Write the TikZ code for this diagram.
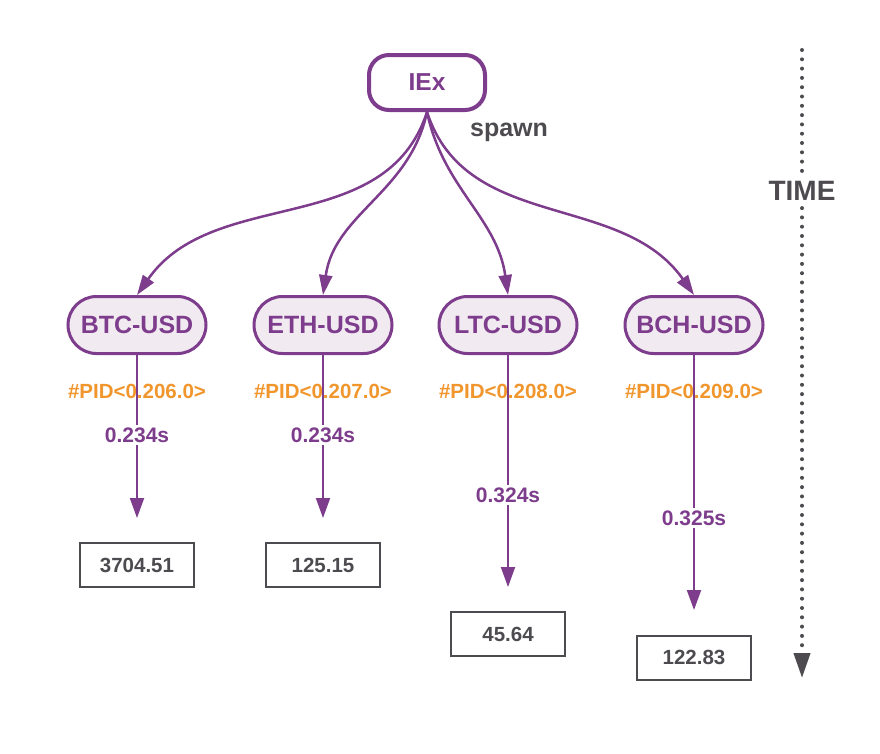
\documentclass[tikz,border=0pt]{standalone}
\usepackage{fontspec}
\setmainfont{Liberation Sans}
\usetikzlibrary{arrows.meta}
\definecolor{iexpurple}{HTML}{7D3C8C}
\definecolor{pidorange}{HTML}{F0962D}
\definecolor{darktext}{HTML}{4D4B4F}
\definecolor{procfill}{HTML}{F1EAF1}
\tikzset{iexbox/.style={draw=iexpurple, line width=4pt, fill=white,
  rounded corners=20pt, minimum width=116pt, minimum height=55pt,
  text=iexpurple, font=\fontsize{24.5}{28}\selectfont\bfseries}}
\tikzset{procbox/.style={draw=iexpurple, line width=3pt, fill=procfill,
  rounded corners=28.5pt, minimum width=138pt, minimum height=57pt,
  text=iexpurple, font=\fontsize{25}{28}\selectfont\bfseries}}
\tikzset{valbox/.style={draw=darktext, line width=2pt, fill=white,
  minimum width=114pt, minimum height=44pt,
  text=darktext, font=\fontsize{20.5}{24}\selectfont\bfseries}}
\tikzset{pidlabel/.style={text=pidorange, inner sep=0pt,
  font=\fontsize{20.5}{24}\selectfont\bfseries}}
\tikzset{timelabel/.style={text=iexpurple, fill=white, inner sep=3pt,
  font=\fontsize{21}{24}\selectfont\bfseries}}
\tikzset{spawnline/.style={draw=iexpurple, line width=2.5pt,
  -{Triangle[length=20pt,width=13pt]}}}
\tikzset{resultline/.style={draw=iexpurple, line width=2pt,
  -{Triangle[length=20pt,width=14pt]}}}
\tikzset{timeline/.style={draw=darktext, line width=4pt, line cap=round,
  dash pattern=on 0pt off 9.3pt, -{Triangle[length=25pt,width=16pt]}}}

\begin{document}
\begin{tikzpicture}[x=1pt,y=-1pt]
\useasboundingbox (0,0) rectangle (880,753);

\node[iexbox] (iex) at (427,82.5) {IEx};
\node[text=darktext, font=\fontsize{25}{28}\selectfont\bfseries] (spawn) at (509,132) {spawn};

\foreach \n/\lab/\x/\lo/\li/\pid/\ty/\ttime/\tipy/\by/\val in {
  btc/BTC-USD/137/-108/55/206/435/0.234s/518/565/3704.51,
  eth/ETH-USD/323/-102/82/207/435/0.234s/518/565/125.15,
  ltc/LTC-USD/508/-78/98/208/495/0.324s/587/634/45.64,
  bch/BCH-USD/694/-72/125/209/518/0.325s/610/657.5/122.83}{
  \node[procbox] (\n) at (\x,325) {\lab};
  \draw[spawnline] (iex.south) to[out=\lo,in=\li] (\n.north);
  \node[pidlabel] (\n-pid) at (\x,391) {\#PID<0.\pid.0>};
  \coordinate (\n-tip) at (\x,\tipy);
  \draw[resultline] (\n.south) -- (\n-tip);
  \node[timelabel] (\n-time) at (\x,\ty) {\ttime};
  \node[valbox] (\n-val) at (\x,\by) {\val};
}

% time axis
\coordinate (time-start) at (802,50);
\coordinate (time-end) at (802,678);
\draw[timeline] (time-start) -- (time-end);
\node[fill=white, text=darktext, inner sep=4pt,
  font=\fontsize{28}{32}\selectfont\bfseries] (time) at (802,191) {TIME};

\end{tikzpicture}
\end{document}
